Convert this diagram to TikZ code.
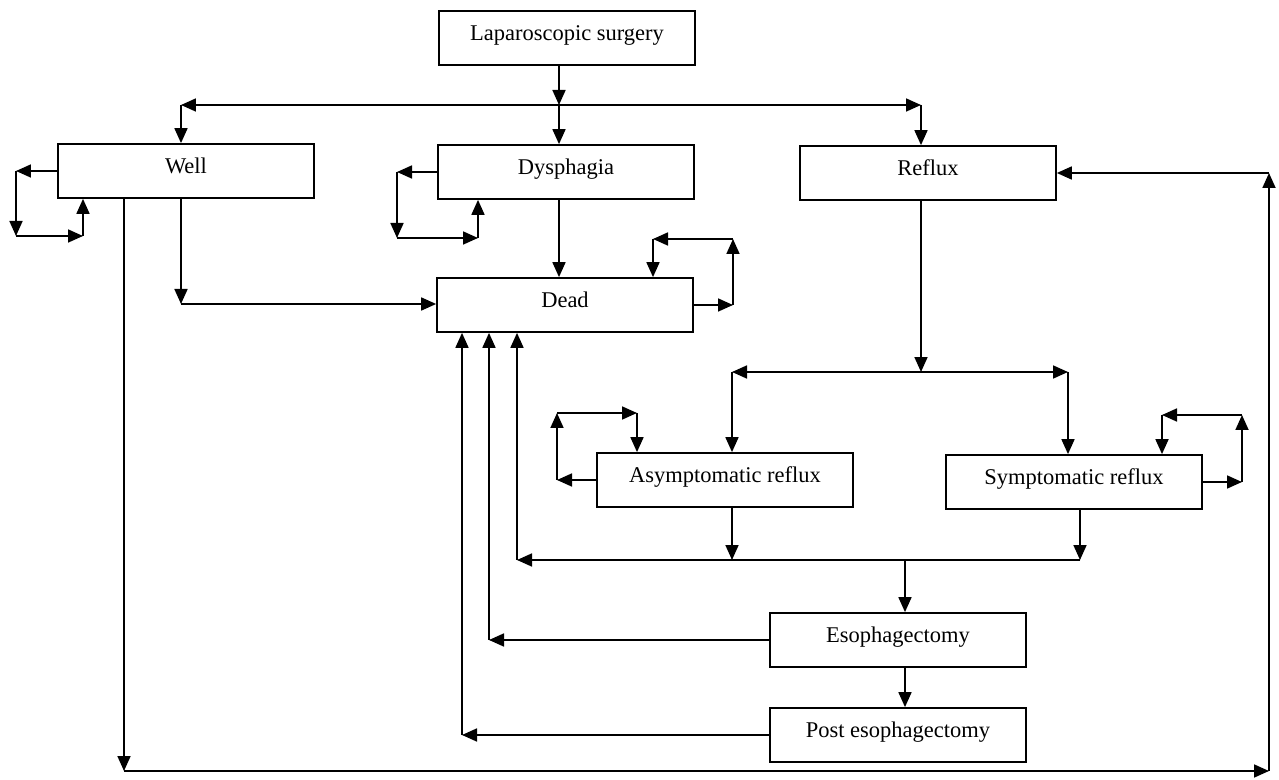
\documentclass[tikz,border=0pt]{standalone}
\usepackage{fontspec}
\setmainfont{Liberation Serif}
\usetikzlibrary{arrows.meta,calc}
\tikzset{
  state/.style={draw,line width=1pt,minimum width=5.12cm,minimum height=1.08cm,
    inner sep=0pt,text height=0.7em,text depth=0.45em,
    font=\fontsize{12.8}{15}\selectfont},
  flow/.style={-{Triangle[length=3mm,width=2.6mm]},line width=1pt},
}
\begin{document}
\begin{tikzpicture}[x=0.02cm,y=-0.02cm]
\useasboundingbox (0,0) rectangle (1279,780);
% stany
\node[state] (lap)    at (567,38)  {Laparoscopic surgery};
\node[state] (well)   at (186,171) {Well};
\node[state] (dys)    at (566,172) {Dysphagia};
\node[state] (reflux) at (928,173) {Reflux};
\node[state] (dead)   at (565,305) {Dead};
\node[state] (asym)   at (725,480) {Asymptomatic reflux};
\node[state] (sym)    at (1074,482) {Symptomatic reflux};
\node[state] (esoph)  at (898,640) {Esophagectomy};
\node[state] (post)   at (898,735) {Post esophagectomy};
% punkty pomocnicze
\coordinate (j1) at (559,105); \coordinate (jl) at (181,105); \coordinate (jr) at (921,105);
\coordinate (wl1) at (16,171); \coordinate (wl2) at (16,236); \coordinate (wl3) at (83,236);
\coordinate (dl1) at (397,172); \coordinate (dl2) at (397,238); \coordinate (dl3) at (478,238);
\coordinate (wd) at (181,304);
\coordinate (el1) at (733,305); \coordinate (el2) at (733,239); \coordinate (el3) at (653,239);
\coordinate (wb1) at (124,771); \coordinate (wb2) at (1269,771); \coordinate (wb3) at (1269,173);
\coordinate (j2) at (921,372); \coordinate (j2l) at (732,372); \coordinate (j2r) at (1068,372);
\coordinate (al1) at (557,480); \coordinate (al2) at (557,413); \coordinate (al3) at (637,413);
\coordinate (sl1) at (1242,482); \coordinate (sl2) at (1242,415); \coordinate (sl3) at (1162,415);
\coordinate (ja) at (732,560); \coordinate (jb) at (1080,560); \coordinate (j3) at (905,560);
\coordinate (j3l) at (517,560);
\coordinate (ec) at (489,640); \coordinate (pc) at (462,735);
% z operacji
\draw[flow] (lap.south -| j1) -- (j1);
\draw[flow] (j1) -- (jl);
\draw[flow] (jl) -- (jl |- well.north);
\draw[flow] (j1) -- (jr);
\draw[flow] (jr) -- (jr |- reflux.north);
\draw[flow] (j1) -- (j1 |- dys.north);
% Well
\draw[flow] (well.west) -- (wl1);
\draw[flow] (wl1) -- (wl2);
\draw[flow] (wl2) -- (wl3);
\draw[flow] (wl3) -- (wl3 |- well.south);
\draw[flow] (well.south -| wd) -- (wd);
\draw[flow] (wd) -- (wd -| dead.west);
\draw[flow] (well.south -| wb1) -- (wb1);
\draw[flow] (wb1) -- (wb2);
\draw[flow] (wb2) -- (wb3);
\draw[flow] (wb3) -- (reflux.east);
% Dysphagia
\draw[flow] (dys.west) -- (dl1);
\draw[flow] (dl1) -- (dl2);
\draw[flow] (dl2) -- (dl3);
\draw[flow] (dl3) -- (dl3 |- dys.south);
\draw[flow] (dys.south -| j1) -- (dead.north -| j1);
% Dead
\draw[flow] (dead.east) -- (el1);
\draw[flow] (el1) -- (el2);
\draw[flow] (el2) -- (el3);
\draw[flow] (el3) -- (el3 |- dead.north);
% Reflux
\draw[flow] (reflux.south -| j2) -- (j2);
\draw[flow] (j2) -- (j2l);
\draw[flow] (j2l) -- (j2l |- asym.north);
\draw[flow] (j2) -- (j2r);
\draw[flow] (j2r) -- (j2r |- sym.north);
\draw[flow] (asym.west) -- (al1);
\draw[flow] (al1) -- (al2);
\draw[flow] (al2) -- (al3);
\draw[flow] (al3) -- (al3 |- asym.north);
\draw[flow] (sym.east) -- (sl1);
\draw[flow] (sl1) -- (sl2);
\draw[flow] (sl2) -- (sl3);
\draw[flow] (sl3) -- (sl3 |- sym.north);
\draw[flow] (asym.south -| ja) -- (ja);
\draw[flow] (sym.south -| jb) -- (jb);
\draw[flow] (jb) -- (j3l);
\draw[flow] (j3l) -- (j3l |- dead.south);
\draw[flow] (j3) -- (j3 |- esoph.north);
% Esophagectomy
\draw[flow] (esoph.west) -- (ec);
\draw[flow] (ec) -- (ec |- dead.south);
\draw[flow] (esoph.south -| j3) -- (post.north -| j3);
\draw[flow] (post.west) -- (pc);
\draw[flow] (pc) -- (pc |- dead.south);
\end{tikzpicture}
\end{document}
